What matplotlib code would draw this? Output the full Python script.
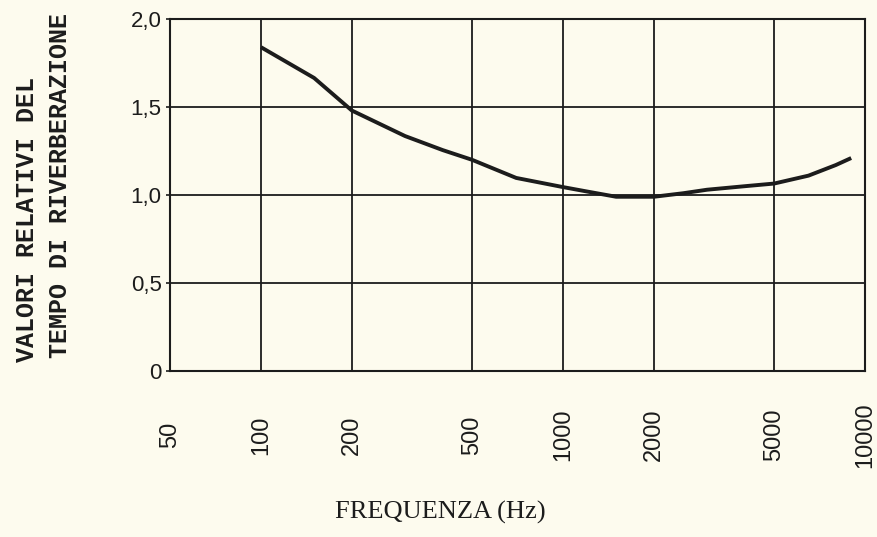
"""Valori relativi del tempo di riverberazione in funzione della frequenza."""

import matplotlib
matplotlib.use("Agg")
import matplotlib.pyplot as plt

# Data
FREQ_HZ = [100, 150, 200, 300, 400, 500, 700, 1000, 1200, 1500, 2000,
           2500, 3000, 4000, 5000, 6500, 8000, 9000]
REL_RT = [1.84, 1.665, 1.48, 1.335, 1.255, 1.20, 1.097, 1.045, 1.02, 0.99, 0.99,
          1.01, 1.03, 1.05, 1.065, 1.11, 1.17, 1.21]

X_TICKS = [50, 100, 200, 500, 1000, 2000, 5000, 10000]
X_TICK_LABELS = ["50", "100", "200", "500", "1000", "2000", "5000", "10000"]
Y_TICKS = [0, 0.5, 1.0, 1.5, 2.0]
Y_TICK_LABELS = ["0", "0,5", "1,0", "1,5", "2,0"]

BG = "#fdfbee"
INK = "#1c1c1c"


def main() -> None:
    fig = plt.figure(figsize=(8.78, 5.37), dpi=100, facecolor=BG)
    ax = fig.add_axes([170 / 878, 1 - 371 / 537, 695 / 878, 352 / 537])
    ax.set_facecolor(BG)

    ax.plot(FREQ_HZ, REL_RT, color=INK, linewidth=2.8,
            solid_capstyle="butt", solid_joinstyle="round")

    ax.set_xscale("log")
    ax.set_xlim(50, 10000)
    ax.set_ylim(0, 2.0)
    ax.set_xticks(X_TICKS)
    ax.set_xticklabels(X_TICK_LABELS)
    ax.minorticks_off()
    ax.set_yticks(Y_TICKS)
    ax.set_yticklabels(Y_TICK_LABELS)

    ax.grid(True, color=INK, linewidth=1.3)
    for spine in ax.spines.values():
        spine.set_color(INK)
        spine.set_linewidth(1.5)

    ax.tick_params(axis="x", length=0, pad=46, labelsize=17, labelcolor=INK)
    ax.tick_params(axis="y", length=3, width=1.2, color=INK, pad=3,
                   labelsize=16, labelcolor=INK)
    for lbl in ax.get_xticklabels():
        lbl.set_rotation(90)
        lbl.set_verticalalignment("center")
        lbl.set_family("Liberation Sans")
    for lbl in ax.get_yticklabels():
        lbl.set_family("Liberation Sans")

    mono = dict(family="Liberation Mono", fontsize=18, fontweight="bold",
                color=INK, rotation=90, ha="center", va="bottom")
    fig.text(27 / 878, 1 - 362 / 537, "VALORI RELATIVI DEL", **mono)
    fig.text(60 / 878, 1 - 358 / 537, "TEMPO DI RIVERBERAZIONE", **mono)

    fig.text(440 / 878, 1 - 512 / 537, "FREQUENZA (Hz)", family="Liberation Serif",
             fontsize=19, color=INK, ha="center", va="center")

    fig.savefig("out.png", dpi=100, facecolor=BG)
    plt.close(fig)


if __name__ == "__main__":
    main()
